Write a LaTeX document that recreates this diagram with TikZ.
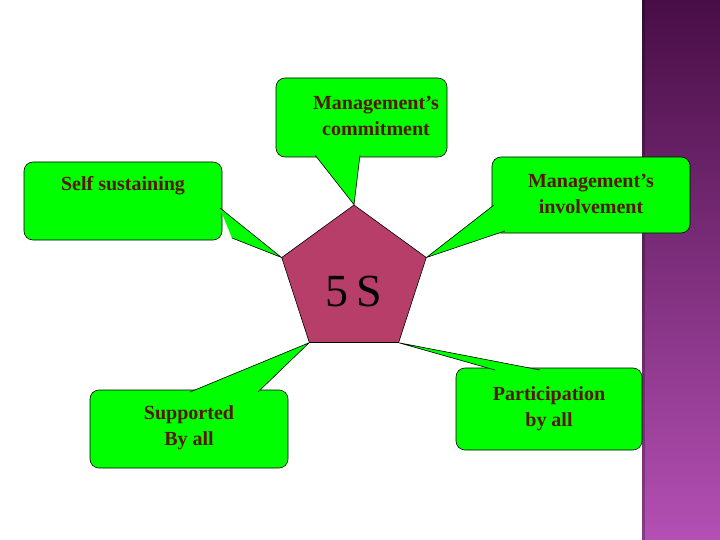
\documentclass[tikz,border=0pt]{standalone}
\usepackage{fontspec}
\setmainfont{Liberation Serif}
\usetikzlibrary{shapes.geometric}
\definecolor{callg}{HTML}{00FF00}
\definecolor{txtc}{HTML}{5A1500}
\definecolor{pent}{HTML}{B83E6A}
\tikzset{
  boxst/.style={fill=callg,draw=black,line width=0.6pt,rounded corners=9pt},
  lbl/.style={font=\bfseries\fontsize{20}{26}\selectfont,text=txtc,align=center},
}
\newcommand{\callout}[7]{% box x1 y1 x2 y2, base1, base2, tip
  \fill[callg] #5 -- #7 -- #6 -- cycle;
  \draw[boxst] (#1,#2) rectangle (#3,#4);
  \fill[callg] #5 -- #7 -- #6 -- cycle;
  \draw[line width=0.6pt] #5 -- #7 -- #6;
}
\begin{document}
\begin{tikzpicture}[x=1pt,y=-1pt]
\useasboundingbox (0,0) rectangle (720,540);
\fill[white] (0,0) rectangle (720,540);
\shade[top color=black!0!white,bottom color=white] (0,0) rectangle (1,1);
\shade[top color={rgb,255:red,72;green,14;blue,70},bottom color={rgb,255:red,180;green,80;blue,180}] (642,0) rectangle (720,540);
\fill[black,opacity=0.25] (642,0) rectangle (645,540);
\node[regular polygon,regular polygon sides=5,minimum size=152pt,inner sep=0pt,fill=pent,draw=black,line width=0.6pt] (p) at (354,281) {};
\node[font=\fontsize{46}{46}\selectfont] (t) at (354,291) {5\,S};
\coordinate (c1) at (p.corner 1);
\coordinate (c2) at (p.corner 2);
\coordinate (c3) at (p.corner 3);
\coordinate (c4) at (p.corner 4);
\coordinate (c5) at (p.corner 5);
\callout{276}{78}{447}{157}{(315,155)}{(360,155)}{(c1)}
\callout{24}{162}{222}{240}{(220,208)}{(232,238)}{(c2)}
\callout{492}{157}{690}{233}{(494,205)}{(505,231)}{(c5)}
\callout{90}{390}{288}{468}{(190,392)}{(258,392)}{(c3)}
\callout{456}{368}{642}{450}{(495,370)}{(540,370)}{(c4)}
\node[lbl] (a) at (376,116) {Management’s\\commitment};
\node[lbl] (b) at (123,186) {Self sustaining};
\node[lbl] (c) at (591,194) {Management’s\\involvement};
\node[lbl] (d) at (189,428) {Supported\\By all};
\node[lbl] (e) at (549,409) {Participation\\by all};
\end{tikzpicture}
\end{document}
